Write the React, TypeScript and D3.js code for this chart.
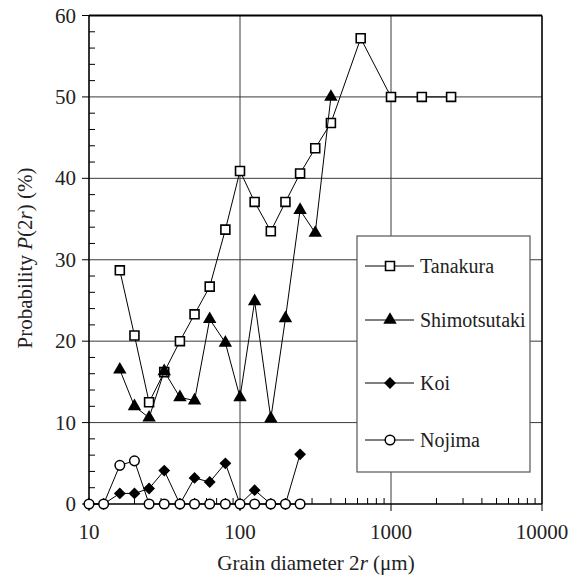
import React from "react";
import * as d3 from "d3";

// grain diameter (µm) and probability (%) per site
const tanakuraX = [16, 20, 25, 31.5, 40, 50, 63, 80, 100, 125, 160, 200, 250, 315, 400, 630, 1000, 1600, 2500];
const tanakuraP = [28.7, 20.7, 12.5, 16.2, 20.0, 23.3, 26.7, 33.7, 40.9, 37.1, 33.5, 37.1, 40.6, 43.7, 46.8, 57.2, 50, 50, 50];

const shimoX = [16, 20, 25, 31.5, 40, 50, 63, 80, 100, 125, 160, 200, 250, 315, 400];
const shimoP = [16.5, 12.0, 10.6, 16.3, 13.1, 12.7, 22.7, 19.8, 13.1, 24.9, 10.5, 22.8, 36.1, 33.3, 50.0];

const koiX = [10, 12.5, 16, 20, 25, 31.5, 40, 50, 63, 80, 100, 125, 160, 200, 250];
const koiP = [0, 0, 1.3, 1.3, 1.9, 4.1, 0, 3.2, 2.7, 5.0, 0, 1.7, 0, 0, 6.1];

const nojimaX = [10, 12.5, 16, 20, 25, 31.5, 40, 50, 63, 80, 100, 125, 160, 200, 250];
const nojimaP = [0, 0, 4.75, 5.3, 0, 0, 0, 0, 0, 0, 0, 0, 0, 0, 0];

const seriesNames = ["Tanakura", "Shimotsutaki", "Koi", "Nojima"];
const yTicks = [0, 10, 20, 30, 40, 50, 60];
const xTicks = [10, 100, 1000, 10000];

const W = 581, H = 577;
const left = 89, right = 542, top = 15.5, bottom = 504;
const TXT = "#222";
const FONT = "'Liberation Serif', 'Times New Roman', serif";
// force the serif face even if some outer stylesheet overrides it
const forceSerif = (el: SVGElement | null) => {
  if (el) el.style.setProperty("font-family", FONT, "important");
};

const x = d3.scaleLog().domain([10, 10000]).range([left, right]);
const y = d3.scaleLinear().domain([0, 60]).range([bottom, top]);

const squarePath = d3.symbol().type(d3.symbolSquare).size(80)() as string;
const trianglePath = d3.symbol().type(d3.symbolTriangle).size(78)() as string;
const diamondPath = d3.symbol().type(d3.symbolSquare).size(70)() as string;

const Marker = ({ kind, cx, cy }: { kind: number; cx: number; cy: number }) => {
  const t = `translate(${cx},${cy})`;
  if (kind === 0) return <path d={squarePath} transform={t} fill="#fff" stroke="#000" strokeWidth={1.6} />;
  if (kind === 1) return <path d={trianglePath} transform={t} fill="#000" />;
  if (kind === 2) return <path d={diamondPath} transform={`${t} rotate(45)`} fill="#000" />;
  return <circle cx={cx} cy={cy} r={4.8} fill="#fff" stroke="#000" strokeWidth={1.5} />;
};

const series = [
  { xs: tanakuraX, ps: tanakuraP },
  { xs: shimoX, ps: shimoP },
  { xs: koiX, ps: koiP },
  { xs: nojimaX, ps: nojimaP },
];

const line = d3.line<[number, number]>().x(d => x(d[0])).y(d => y(d[1]));

const yMinor = d3.range(0, 60, 2).filter(v => v % 10 !== 0);
const xMinor: number[] = [];
[10, 100, 1000].forEach(dec => d3.range(2, 10).forEach(k => xMinor.push(dec * k)));

const legendY = [266, 320, 383, 440];

const App = () => {
  return (
    <svg width={W} height={H} style={{ position: "absolute", left: 0, top: 0 }}>
      <style>{`svg text, svg tspan { font-family: 'Liberation Serif', 'Times New Roman', serif !important; }`}</style>
      {/* grid */}
      <g stroke="#3a3a3a" strokeWidth={1}>
        {yTicks.filter(t => t > 0 && t < 60).map(t => (
          <line key={"h" + t} x1={left} x2={right} y1={y(t)} y2={y(t)} />
        ))}
        {[100, 1000].map(t => (
          <line key={"v" + t} x1={x(t)} x2={x(t)} y1={top} y2={bottom} />
        ))}
      </g>

      {/* ticks */}
      <g stroke="#000" strokeWidth={1}>
        {yMinor.map(t => <line key={"ym" + t} x1={left} x2={left + 6} y1={y(t)} y2={y(t)} />)}
        {yTicks.map(t => <line key={"yM" + t} x1={left - 7} x2={left} y1={y(t)} y2={y(t)} />)}
        {xMinor.map(t => <line key={"xm" + t} x1={x(t)} x2={x(t)} y1={bottom} y2={bottom - 6} />)}
        {xTicks.map(t => <line key={"xM" + t} x1={x(t)} x2={x(t)} y1={bottom} y2={bottom + 7} />)}
      </g>

      {/* frame */}
      <line x1={left} x2={right} y1={top} y2={top} stroke="#000" strokeWidth={2.2} />
      <line x1={right} x2={right} y1={top} y2={bottom} stroke="#000" strokeWidth={1.6} />
      <line x1={left} x2={left} y1={top} y2={bottom} stroke="#000" strokeWidth={1.6} />
      <line x1={left} x2={right} y1={bottom} y2={bottom} stroke="#000" strokeWidth={1.6} />

      {/* tick labels */}
      {yTicks.map(t => (
        <text key={"yl" + t} ref={forceSerif} x={76} y={y(t) + 7} textAnchor="end" fontSize={21} fill={TXT}>{t}</text>
      ))}
      {xTicks.map(t => (
        <text key={"xl" + t} ref={forceSerif} x={x(t)} y={539} textAnchor="middle" fontSize={21} fill={TXT}>{t}</text>
      ))}

      {/* axis titles */}
      <text ref={forceSerif} x={316} y={570} textAnchor="middle" fontSize={21} fill={TXT}>
        Grain diameter 2<tspan fontStyle="italic">r</tspan> ({"\u03bc"}m)
      </text>
      <text ref={forceSerif} transform="translate(32,258) rotate(-90)" textAnchor="middle" fontSize={21} fill={TXT}>
        Probability <tspan fontStyle="italic">P</tspan>(2<tspan fontStyle="italic">r</tspan>) (%)
      </text>

      {/* series */}
      {series.map((s, k) => {
        const pts: [number, number][] = s.xs.map((v, i) => [v, s.ps[i]]);
        return (
          <g key={"s" + k}>
            <path d={line(pts) as string} fill="none" stroke="#000" strokeWidth={1} />
            {pts.map((p, i) => <Marker key={i} kind={k} cx={x(p[0])} cy={y(p[1])} />)}
          </g>
        );
      })}

      {/* legend */}
      <rect x={357} y={236} width={173} height={236} fill="#fff" stroke="#555" strokeWidth={1.2} />
      {seriesNames.map((name, k) => (
        <g key={name}>
          <line x1={365} x2={414} y1={legendY[k]} y2={legendY[k]} stroke="#000" strokeWidth={1} />
          <Marker kind={k} cx={390} cy={legendY[k]} />
          <text ref={forceSerif} x={420} y={legendY[k] + 7} fontSize={20} fill={TXT}>{name}</text>
        </g>
      ))}
    </svg>
  );
};

export default App;
